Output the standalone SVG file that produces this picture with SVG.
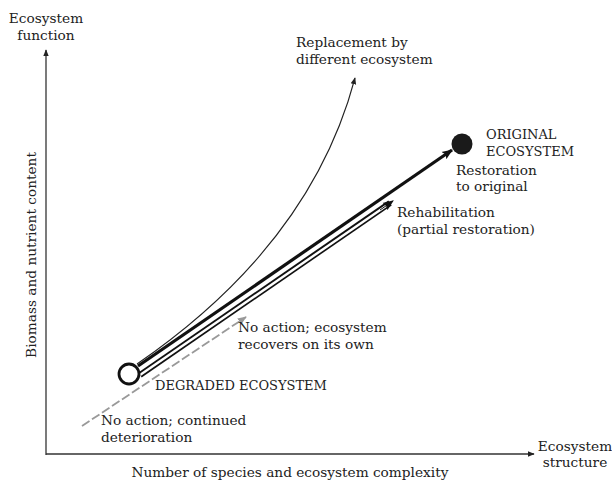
<svg xmlns="http://www.w3.org/2000/svg" width="612" height="480" viewBox="0 0 612 480">
<style>
text{font-family:"DejaVu Serif","Liberation Serif",serif;font-size:13.7px;fill:#222}
.caps{font-size:13px}
.ax{stroke:#333;stroke-width:1.3;fill:none}
</style>
<defs>
<marker id="ah" viewBox="0 0 10 10" refX="9" refY="5" markerWidth="7" markerHeight="7" markerUnits="userSpaceOnUse" orient="auto"><path d="M0,1 L10,5 L0,9 Z" fill="#222"/></marker>
<marker id="ahb" viewBox="0 0 10 10" refX="9" refY="5" markerWidth="11" markerHeight="11" markerUnits="userSpaceOnUse" orient="auto"><path d="M0,1 L10,5 L0,9 L2,5 Z" fill="#111"/></marker>
<marker id="ahg" viewBox="0 0 10 10" refX="9" refY="5" markerWidth="9" markerHeight="9" markerUnits="userSpaceOnUse" orient="auto"><path d="M0,1 L10,5 L0,9 Z" fill="#999"/></marker>
</defs>
<rect width="612" height="480" fill="#fff"/>
<g id="axes">
<line class="ax" x1="46" y1="455" x2="46" y2="50" marker-end="url(#ah)"/>
<line class="ax" x1="46" y1="454" x2="534" y2="454" marker-end="url(#ah)"/>
<text x="46" y="23" text-anchor="middle" font-size="12.5">Ecosystem</text>
<text x="46" y="40" text-anchor="middle" font-size="12.5">function</text>
<text x="575" y="451" text-anchor="middle" font-size="12">Ecosystem</text>
<text x="575" y="467" text-anchor="middle" font-size="12">structure</text>
<text x="290" y="477" text-anchor="middle" font-size="13.4">Number of species and ecosystem complexity</text>
<text transform="translate(36,255) rotate(-90)" text-anchor="middle" font-size="14.5">Biomass and nutrient content</text>
</g>
<g id="connectors">
<line x1="82" y1="426" x2="246" y2="317" stroke="#999" stroke-width="1.8" stroke-dasharray="9,3" marker-end="url(#ahg)"/>
<path d="M137,364 C230,300 320,210 355,78" fill="none" stroke="#222" stroke-width="1.1" marker-end="url(#ah)"/>
<line x1="140" y1="375" x2="390" y2="203" stroke="#111" stroke-width="6"/>
<line x1="140" y1="375" x2="386" y2="206" stroke="#fff" stroke-width="2.4"/>
<line x1="380" y1="210" x2="393" y2="201" stroke="#111" stroke-width="1" marker-end="url(#ahb)"/>
<line x1="138" y1="366" x2="452" y2="150" stroke="#111" stroke-width="3.2" marker-end="url(#ahb)"/>
</g>
<g id="degraded">
<circle cx="129" cy="374" r="10" fill="#fff" stroke="#111" stroke-width="2.8"/>
<text class="caps" x="155" y="390">DEGRADED ECOSYSTEM</text>
</g>
<g id="original">
<circle cx="462" cy="144" r="10.5" fill="#1a1a1a"/>
<text class="caps" x="486" y="139">ORIGINAL</text>
<text class="caps" x="486" y="156">ECOSYSTEM</text>
</g>
<g id="labels">
<text x="296" y="47">Replacement by</text>
<text x="296" y="64">different ecosystem</text>
<text x="456" y="175">Restoration</text>
<text x="456" y="191">to original</text>
<text x="397" y="217">Rehabilitation</text>
<text x="397" y="234">(partial restoration)</text>
<text x="238" y="332">No action; ecosystem</text>
<text x="238" y="349">recovers on its own</text>
<text x="101" y="425">No action; continued</text>
<text x="101" y="442">deterioration</text>
</g>
</svg>
